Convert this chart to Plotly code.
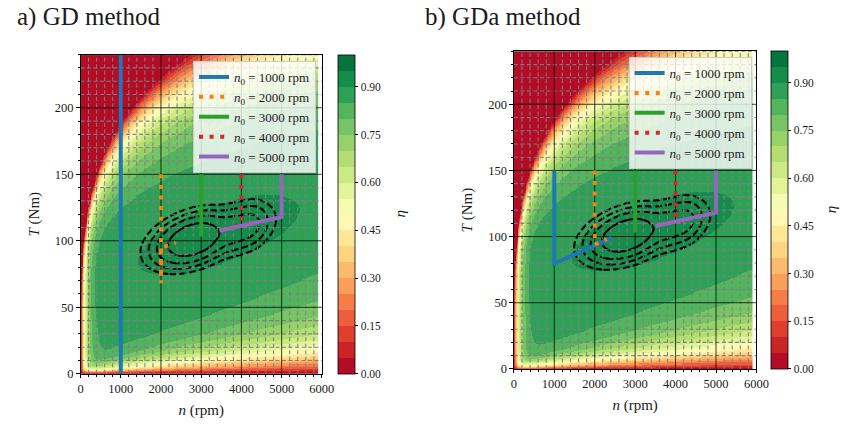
import numpy as np
import plotly.graph_objects as go

W, H = 849, 429
SERIF = "Liberation Serif"
INK = "#1a1a1a"

# ---------------------------------------------------------------- data
START_SPEEDS = [1000, 2000, 3000, 4000, 5000]          # rpm
LINE_COLORS = ["#1f77b4", "#ff7f0e", "#2ca02c", "#d62728", "#9467bd"]
LINE_DASHES = ["solid", "4px,6.6px", "solid", "4px,6.6px", "solid"]

# GD method: (n, T) iterates per start speed
GD_N_1000 = [1000, 1000, 1000]
GD_T_1000 = [150, 240, 0]
GD_N_2000 = [2000, 2000, 2000, 2130, 2370]
GD_T_2000 = [150, 68, 95, 96, 98.5]
GD_N_3000 = [3000, 3000]
GD_T_3000 = [150, 103]
GD_N_4000 = [4000, 4000, 3650]
GD_T_4000 = [150, 112, 109.5]
GD_N_5000 = [5000, 5000, 3450]
GD_T_5000 = [150, 118, 107.5]

# GDa method
GDA_N_1000 = [1000, 1000, 2410]
GDA_T_1000 = [150, 79.5, 99]
GDA_N_2000 = [2000, 2000, 2300]
GDA_T_2000 = [150, 94, 98]
GDA_N_3000 = [3000, 3000]
GDA_T_3000 = [150, 103]
GDA_N_4000 = [4000, 4000, 3650]
GDA_T_4000 = [150, 112, 109.5]
GDA_N_5000 = [5000, 5000, 3500]
GDA_T_5000 = [150, 118, 108]

# axis ticks
N_TICKS = [0, 1000, 2000, 3000, 4000, 5000, 6000]
T_TICKS = [0, 50, 100, 150, 200]
N_MINOR_STEP = 200
T_MINOR_STEP = 10
ETA_TICKS = [0.00, 0.15, 0.30, 0.45, 0.60, 0.75, 0.90]

# efficiency-map model parameters
ETA_PEAK = 0.925
N_PEAK, T_PEAK = 3500.0, 105.0
PEAK_TILT = 9.3            # Nm per 1000 rpm
N_SPREAD = 2140.0
T_SPREAD_UP, T_SPREAD_DOWN = 27.0, 24.0
TAU_T0, TAU_T1 = 2.0, 3.0  # low-torque roll-off, Nm and Nm per 1000 rpm
N_KNEE = 115.0             # low-speed roll-off, rpm
ENV_COEF = 33.5            # torque envelope  T = ENV_COEF * n**ENV_EXP
ENV_EXP = 0.25

# loss-contour model parameters
J_N0, J_T0 = 2800.0, 101.0
J_TILT = 7.4
J_TSCALE = 18.5
J_STRETCH = 0.75
J_SOLID = 0.62
J_DASHED = [0.9, 1.105, 1.31]

# ---------------------------------------------------------------- model
n_map = np.arange(0, 5901, 20.0)
T_map = np.arange(0, 240.01, 0.8)
NN, TT = np.meshgrid(n_map, T_map)


def efficiency(n, T):
    t_mid = T_PEAK + PEAK_TILT * (n - N_PEAK) / 1000.0
    du = (n - N_PEAK) / N_SPREAD
    dT = T - t_mid
    dv = np.where(dT > 0, dT / T_SPREAD_UP, dT / T_SPREAD_DOWN)
    core = ETA_PEAK - 0.025 * np.hypot(du, dv) ** 0.9
    tau = TAU_T0 + TAU_T1 * n / 1000.0
    f_T = 1.0 - np.exp(-T / tau)
    f_n = 1.0 - np.exp(-n / N_KNEE)
    n_lim = (np.maximum(T, 1e-6) / ENV_COEF) ** (1.0 / ENV_EXP)
    m = np.maximum(n, 1e-6) / n_lim
    q = 2.0 - 0.8 * np.clip((T - 190.0) / 50.0, 0, 1)
    f_env = np.where(m > 1, 1.0 - m ** (-q), 0.0)
    return np.clip(core * f_T * f_n * f_env, 0, 0.999)


ETA = np.round(efficiency(NN, TT), 4)

n_j = np.arange(1000, 5601, 20.0)
T_j = np.arange(50, 160.01, 0.5)
NJ, TJ = np.meshgrid(n_j, T_j)


def loss_index(n, T):
    u = (n - J_N0) / 1000.0
    s = np.clip((u - 0.5) / 1.2, 0, 1)
    u_eff = np.where(u > 0, u - J_STRETCH * s * s * (3 - 2 * s), u)
    v = (T - J_T0 - J_TILT * u) / J_TSCALE
    return np.hypot(u_eff, v)


JL = np.round(loss_index(NJ, TJ), 4)

# ---------------------------------------------------------------- colours
RDYLGN = ["#a50026", "#d73027", "#f46d43", "#fdae61", "#fee08b", "#ffffbf",
          "#d9ef8b", "#a6d96a", "#66bd63", "#1a9850", "#006837"]


def cmap(t):
    pos = t * (len(RDYLGN) - 1)
    i = min(int(pos), len(RDYLGN) - 2)
    f = pos - i
    a = [int(RDYLGN[i][k:k + 2], 16) for k in (1, 3, 5)]
    b = [int(RDYLGN[i + 1][k:k + 2], 16) for k in (1, 3, 5)]
    return "rgb(%d,%d,%d)" % tuple(round(x + (y - x) * f) for x, y in zip(a, b))


N_BANDS = 20
scale = []
for i in range(N_BANDS):
    c = cmap((i + 0.5) / N_BANDS)
    scale.append([i / N_BANDS, c])
    scale.append([(i + 1) / N_BANDS, c])

# ---------------------------------------------------------------- figure
PANELS = [
    dict(xd=[79 / W, 325 / W], yd=[49 / H, 373.5 / H], cbx=341 / W, title="a) GD method", tx=12, etax=405,
         leg="legend", paths=[(GD_N_1000, GD_T_1000), (GD_N_2000, GD_T_2000), (GD_N_3000, GD_T_3000),
                              (GD_N_4000, GD_T_4000), (GD_N_5000, GD_T_5000)]),
    dict(xd=[520.7 / W, 767.9 / W], yd=[54 / H, 376.8 / H], cbx=783 / W, title="b) GDa method", tx=428, etax=844,
         leg="legend2", paths=[(GDA_N_1000, GDA_T_1000), (GDA_N_2000, GDA_T_2000), (GDA_N_3000, GDA_T_3000),
                               (GDA_N_4000, GDA_T_4000), (GDA_N_5000, GDA_T_5000)]),
]

fig = go.Figure()
layout = dict(width=W, height=H, margin=dict(l=0, r=0, t=0, b=0),
              paper_bgcolor="white", plot_bgcolor="white", showlegend=True,
              font=dict(family=SERIF, color=INK), annotations=[])

for k, p in enumerate(PANELS):
    xa = "x" if k == 0 else "x2"
    ya = "y" if k == 0 else "y2"

    fig.add_trace(go.Heatmap(
        x=n_map, y=T_map, z=ETA, xaxis=xa, yaxis=ya, zmin=0, zmax=1,
        colorscale=scale, hoverinfo="skip", showlegend=False,
        colorbar=dict(x=p["cbx"], xanchor="left", xpad=0, ypad=0, thickness=17,
                      lenmode="fraction", len=p["yd"][1] - p["yd"][0], y=p["yd"][0], yanchor="bottom",
                      outlinecolor="black", outlinewidth=0.8,
                      tickvals=ETA_TICKS, ticktext=["%.2f" % v for v in ETA_TICKS],
                      ticks="outside", ticklen=3.5, tickwidth=0.8, tickcolor="black",
                      tickfont=dict(family=SERIF, size=11.5, color=INK))))

    # loss contours
    fig.add_trace(go.Contour(
        x=n_j, y=T_j, z=JL, xaxis=xa, yaxis=ya, showscale=False, hoverinfo="skip", showlegend=False,
        contours=dict(coloring="lines", start=J_DASHED[0], end=J_DASHED[-1],
                      size=(J_DASHED[-1] - J_DASHED[0]) / (len(J_DASHED) - 1)),
        line=dict(color="black", width=2.1, dash="7px,3px", smoothing=1),
        colorscale=[[0, "black"], [1, "black"]]))
    fig.add_trace(go.Contour(
        x=n_j, y=T_j, z=JL, xaxis=xa, yaxis=ya, showscale=False, hoverinfo="skip", showlegend=False,
        contours=dict(coloring="lines", start=J_SOLID, end=J_SOLID, size=1),
        line=dict(color="black", width=2.1, smoothing=1),
        colorscale=[[0, "black"], [1, "black"]]))

    # grid: dashed grey at minor steps, black at major ticks
    gx, gy = [], []
    for nv in range(0, 6001, N_MINOR_STEP):
        if nv not in N_TICKS:
            gx += [nv, nv, None]
            gy += [0, 240, None]
    for tv in range(0, 241, T_MINOR_STEP):
        if tv not in T_TICKS:
            gx += [0, 6000, None]
            gy += [tv, tv, None]
    fig.add_trace(go.Scatter(x=gx, y=gy, xaxis=xa, yaxis=ya, mode="lines", hoverinfo="skip",
                             showlegend=False, line=dict(color="rgba(128,128,128,0.95)", width=1.1,
                                                         dash="4px,2.5px")))
    mx, my = [], []
    for nv in N_TICKS[1:-1]:
        mx += [nv, nv, None]
        my += [0, 240, None]
    for tv in T_TICKS[1:]:
        mx += [0, 6000, None]
        my += [tv, tv, None]
    fig.add_trace(go.Scatter(x=mx, y=my, xaxis=xa, yaxis=ya, mode="lines", hoverinfo="skip",
                             showlegend=False, line=dict(color="rgba(0,0,0,0.85)", width=0.9)))

    # search paths
    for s, (pn, pt), col, dash in zip(START_SPEEDS, p["paths"], LINE_COLORS, LINE_DASHES):
        fig.add_trace(go.Scatter(
            x=pn, y=pt, xaxis=xa, yaxis=ya, mode="lines", legend=p["leg"],
            name="<i>n</i><sub>0</sub> = %d rpm" % s, hoverinfo="skip",
            line=dict(color=col, width=4, dash=dash)))

    ax_common = dict(showgrid=False, zeroline=False, showline=True, linecolor="black", linewidth=1,
                     mirror=True, ticks="outside", ticklen=3.5, tickwidth=0.8, tickcolor="black",
                     tickfont=dict(family=SERIF, size=12.5, color=INK))
    layout["xaxis" if k == 0 else "xaxis2"] = dict(
        domain=p["xd"], range=[0, 6000], anchor=ya, tickvals=N_TICKS,
        minor=dict(tick0=0, dtick=N_MINOR_STEP, ticks="outside", ticklen=2, tickwidth=0.6, tickcolor="black"),
        title=dict(text="<i>n</i> (rpm)", font=dict(family=SERIF, size=15, color=INK), standoff=9),
        **ax_common)
    layout["yaxis" if k == 0 else "yaxis2"] = dict(
        domain=p["yd"], range=[0, 240], anchor=xa, tickvals=T_TICKS,
        minor=dict(tick0=0, dtick=T_MINOR_STEP, ticks="outside", ticklen=2, tickwidth=0.6, tickcolor="black"),
        title=dict(text="<i>T</i> (Nm)", font=dict(family=SERIF, size=15, color=INK), standoff=11),
        **ax_common)

    layout["annotations"].append(dict(
        text=p["title"], xref="paper", yref="paper", x=p["tx"] / W, y=1 - 17 / H,
        xanchor="left", yanchor="middle", showarrow=False,
        font=dict(family=SERIF, size=25, color=INK)))
    layout["annotations"].append(dict(
        text="<i>η</i>", xref="paper", yref="paper", x=p["etax"] / W, y=sum(p["yd"]) / 2,
        xanchor="center", yanchor="middle", showarrow=False, textangle=-90,
        font=dict(family=SERIF, size=15, color=INK)))

leg_common = dict(xanchor="right", yanchor="top", bgcolor="rgba(255,255,255,0.8)",
                  bordercolor="#cccccc", borderwidth=1, itemwidth=30, tracegroupgap=0,
                  font=dict(family=SERIF, size=13, color=INK))
layout["legend"] = dict(x=319 / W, y=1 - 62 / H, **leg_common)
layout["legend2"] = dict(x=763 / W, y=1 - 58 / H, **leg_common)

fig.update_layout(**layout)
fig.write_html("out.html")
